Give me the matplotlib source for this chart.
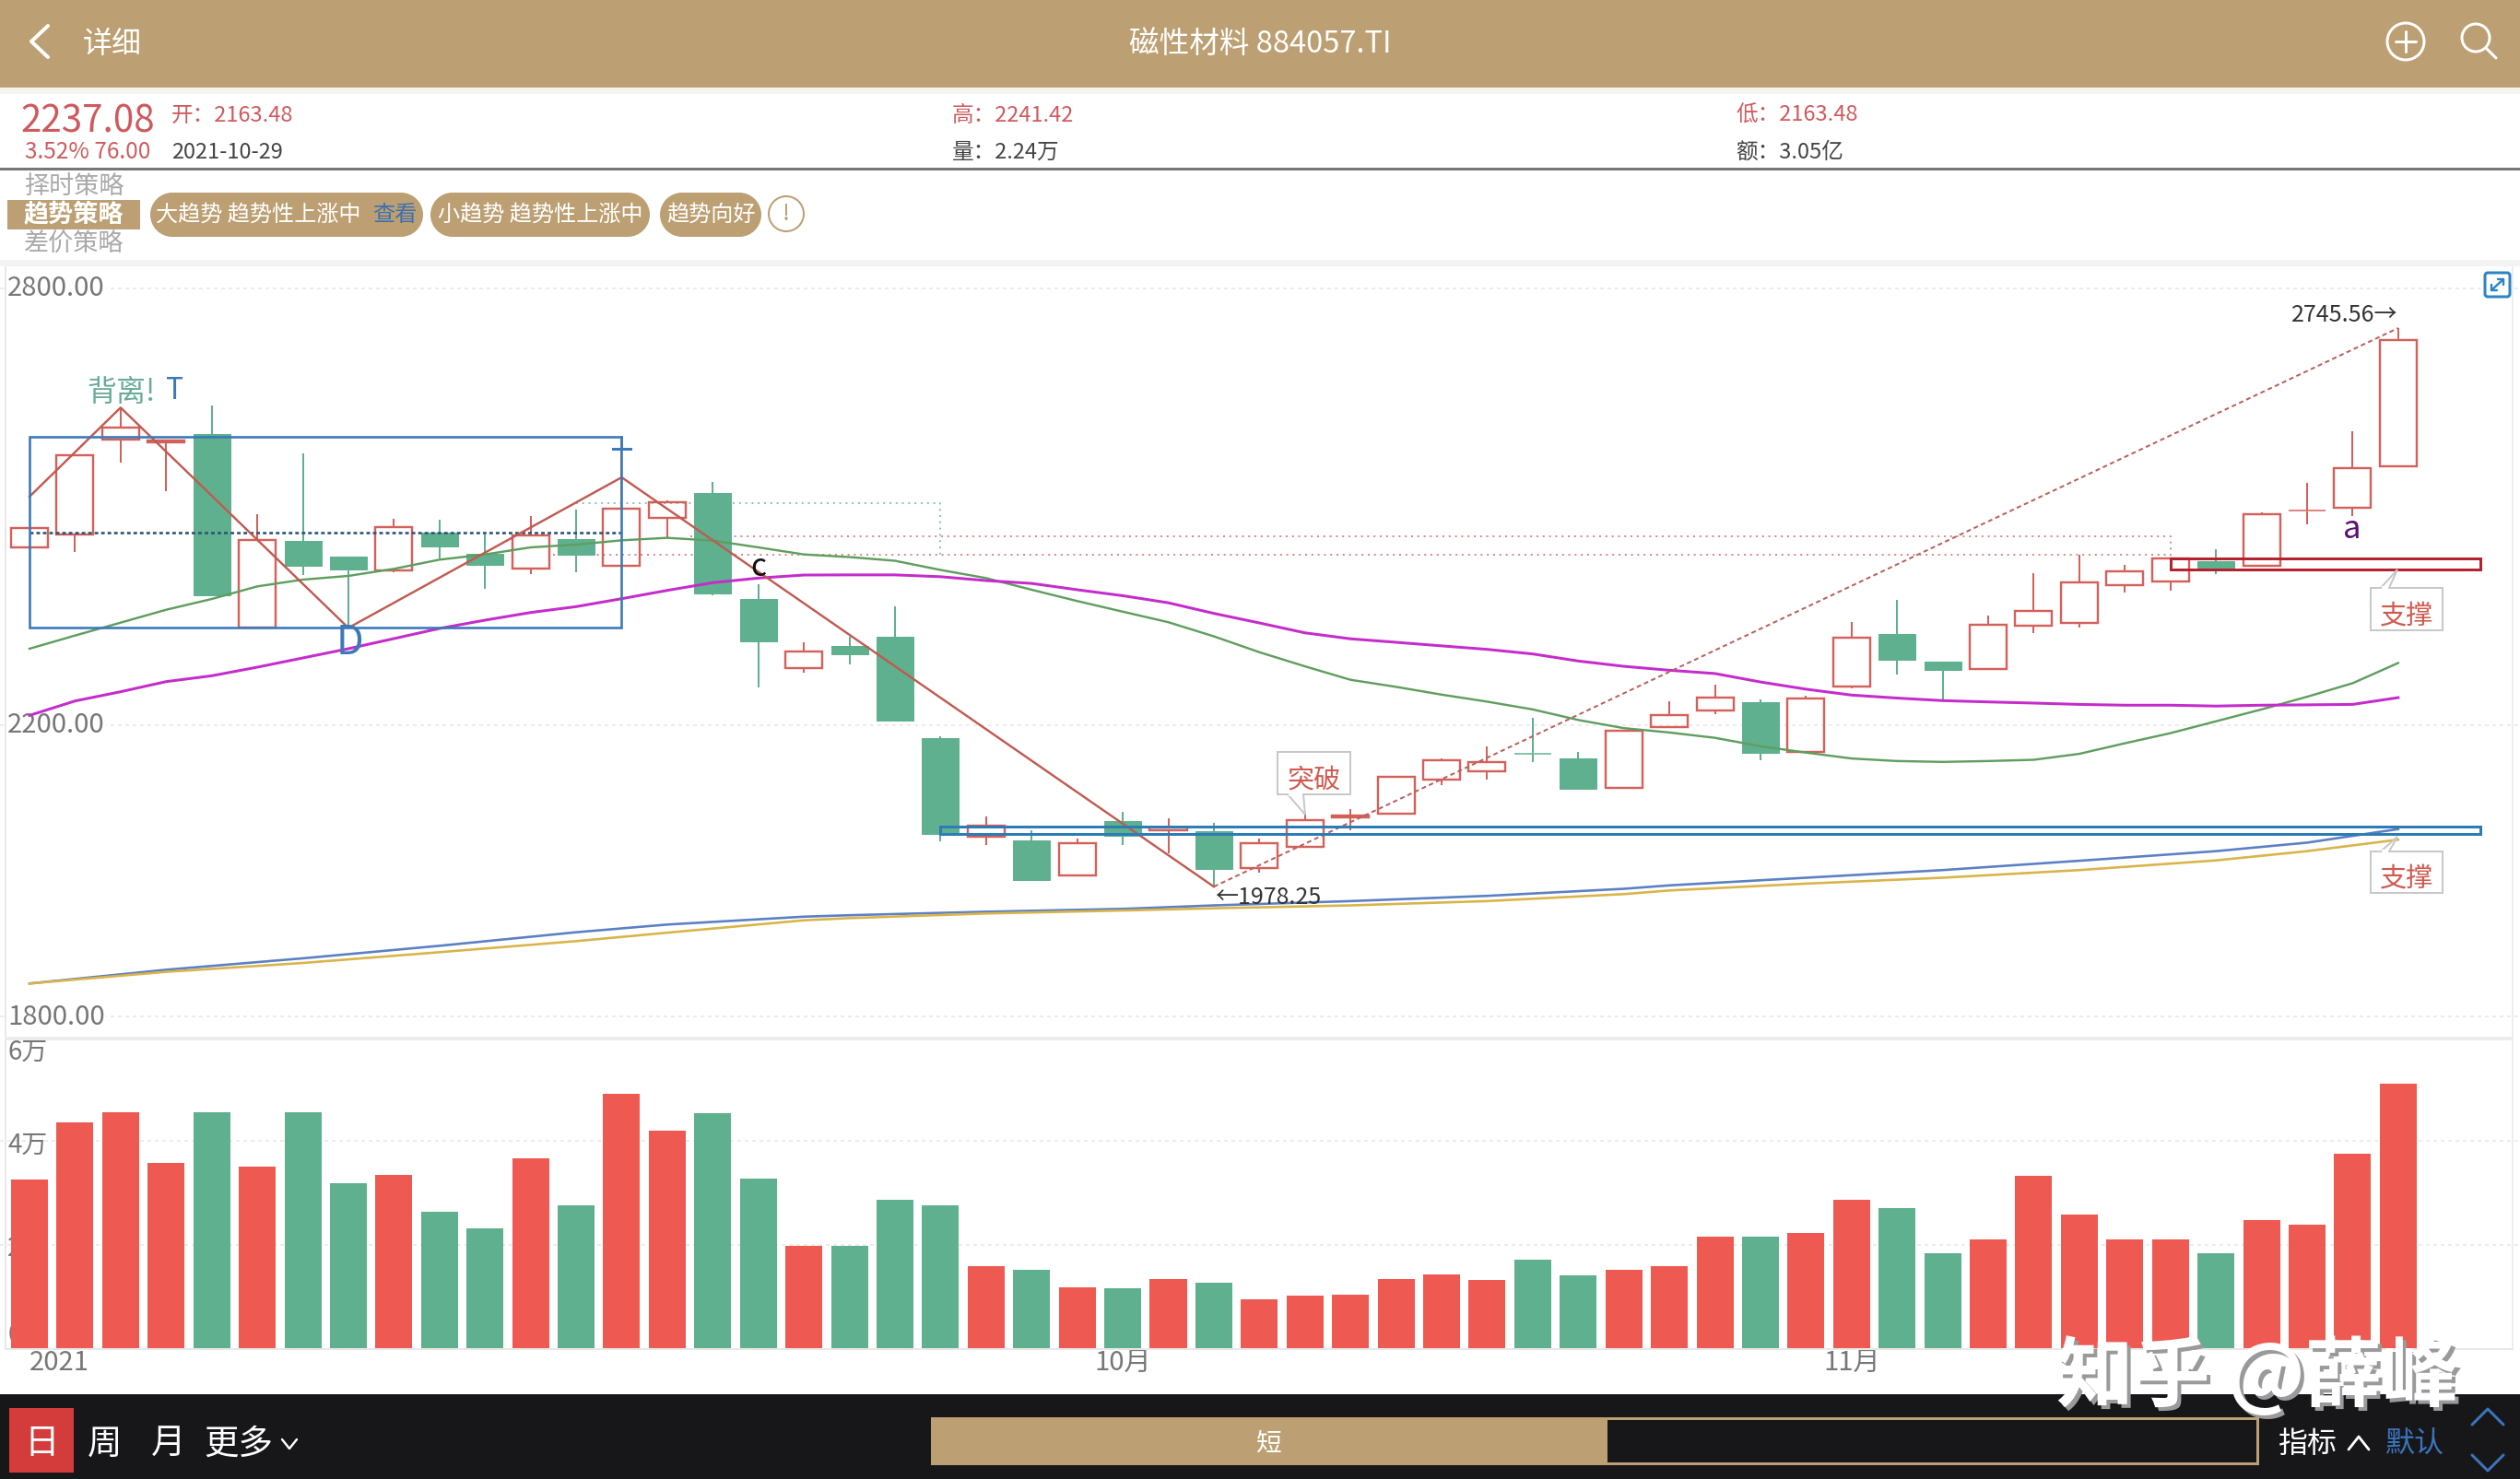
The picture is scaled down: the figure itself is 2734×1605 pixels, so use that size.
import matplotlib
matplotlib.use('Agg')
import matplotlib.pyplot as plt
from matplotlib.patches import Rectangle, FancyBboxPatch, Circle, Polygon
from matplotlib.transforms import ScaledTranslation
import numpy as np

plt.rcParams['font.family'] = ['Noto Sans CJK SC', 'DejaVu Sans']

W, H = 2734, 1606

opens = [2444.3, 2462.4, 2592.8, 2589.0, 2600.0, 2333.7, 2453.2, 2431.6, 2413.0, 2465.0,
         2435.4, 2415.6, 2455.3, 2419.0, 2485.2, 2518.6, 2373.4, 2278.5, 2309.0, 2321.1,
         2182.9, 2046.6, 2041.3, 1993.3, 2068.9, 2055.8, 2054.4, 2003.5, 2033.5, 2072.8,
         2078.6, 2125.2, 2136.3, 2162.0, 2153.8, 2113.6, 2198.0, 2219.9, 2232.1, 2163.0,
         2253.0, 2325.6, 2287.9, 2277.4, 2336.6, 2340.1, 2392.4, 2397.0, 2424.9, 2418.5,
         2494.0, 2499.2, 2555.5]
closes = [2470.5, 2570.9, 2608.9, 2590.7, 2378.9, 2454.8, 2419.4, 2414.3, 2471.7, 2446.0,
          2420.7, 2460.8, 2434.6, 2497.5, 2506.3, 2381.4, 2315.6, 2300.8, 2297.8, 2206.2,
          2050.5, 2061.7, 1987.0, 2038.4, 2048.6, 2059.2, 2002.0, 2038.4, 2069.4, 2075.7,
          2128.6, 2151.4, 2149.0, 2161.2, 2112.6, 2192.1, 2214.0, 2237.9, 2161.8, 2236.8,
          2320.4, 2289.6, 2275.7, 2338.4, 2357.0, 2395.9, 2411.5, 2429.0, 2415.6, 2489.9,
          2494.8, 2552.7, 2728.6]
highs = [2470.5, 2570.9, 2636.3, 2590.7, 2639.7, 2489.4, 2573.0, 2431.6, 2483.1, 2481.9,
         2462.4, 2486.9, 2495.8, 2579.3, 2508.9, 2534.2, 2393.6, 2313.5, 2322.0, 2363.3,
         2185.3, 2074.7, 2055.3, 2044.7, 2081.0, 2072.3, 2066.0, 2044.7, 2078.2, 2084.5,
         2128.6, 2153.8, 2170.8, 2210.5, 2163.5, 2192.1, 2233.3, 2255.3, 2235.0, 2240.8,
         2341.9, 2372.6, 2287.9, 2350.6, 2408.6, 2433.6, 2420.8, 2429.0, 2442.3, 2492.8,
         2533.5, 2603.2, 2745.56]
lows = [2444.3, 2437.9, 2560.3, 2521.5, 2378.9, 2333.7, 2406.3, 2333.7, 2409.7, 2429.5,
        2387.3, 2407.6, 2409.7, 2419.0, 2457.0, 2378.0, 2251.5, 2272.6, 2283.3, 2206.2,
        2040.8, 2035.0, 1987.0, 1993.3, 2036.0, 2023.8, 1978.25, 1997.2, 2033.5, 2056.3,
        2078.6, 2117.4, 2125.7, 2149.9, 2112.6, 2113.6, 2197.4, 2214.7, 2152.0, 2163.0,
        2250.7, 2269.9, 2233.3, 2277.4, 2326.8, 2333.7, 2382.5, 2384.2, 2407.5, 2418.5,
        2476.0, 2487.6, 2555.5]
volumes = [3.25, 4.35, 4.55, 3.57, 4.55, 3.50, 4.55, 3.19, 3.35, 2.64, 2.32, 3.66, 2.75, 4.90,
           4.19, 4.53, 3.27, 1.97, 1.97, 2.86, 2.75, 1.59, 1.52, 1.17, 1.15, 1.33, 1.27, 0.95,
           1.01, 1.04, 1.33, 1.43, 1.31, 1.70, 1.40, 1.51, 1.58, 2.15, 2.16, 2.22, 2.87, 2.70,
           1.84, 2.09, 3.32, 2.57, 2.09, 2.09, 1.83, 2.47, 2.38, 3.76, 5.11]
ma_green = [2305.1, 2323.2, 2340.9, 2358.6, 2373.4, 2390.7, 2400.0, 2405.1, 2414.8, 2427.4,
            2434.6, 2444.3, 2448.1, 2454.0, 2457.4, 2453.6, 2444.3, 2434.6, 2431.0, 2425.9,
            2413.3, 2402.1, 2386.1, 2370.6, 2356.0, 2341.5, 2322.1, 2300.3, 2280.9, 2262.4,
            2252.7, 2242.0, 2232.4, 2221.7, 2207.2, 2196.0, 2190.0, 2182.7, 2171.1, 2162.4,
            2154.3, 2150.8, 2149.6, 2150.8, 2152.5, 2160.7, 2175.2, 2189.1, 2205.4, 2221.7,
            2239.1, 2257.7, 2285.5]
ma_magenta = [2213.5, 2233.3, 2246.0, 2259.9, 2267.9, 2279.7, 2292.4, 2305.1, 2319.0, 2332.9,
              2344.3, 2354.8, 2362.9, 2373.8, 2385.2, 2395.8, 2402.1, 2406.3, 2406.5, 2406.5,
              2404.0, 2398.7, 2394.8, 2386.1, 2377.9, 2368.2, 2353.6, 2340.5, 2326.9, 2318.7,
              2313.9, 2309.0, 2304.2, 2297.9, 2288.2, 2280.9, 2275.5, 2271.0, 2259.4, 2249.5,
              2241.4, 2237.3, 2233.8, 2232.0, 2230.4, 2228.6, 2227.5, 2227.5, 2226.3, 2227.5,
              2228.0, 2228.6, 2237.9]
long_idx = [0, 3, 6, 9, 12, 14, 17, 18, 21, 24, 26, 29, 32, 35, 36, 39, 42, 45, 48, 50, 52]
ma_blue = [1845.2, 1864.1, 1879.8, 1897.0, 1915.6, 1926.2, 1937.0, 1939.0, 1943.8, 1947.7, 1952.5,
           1958.4, 1965.6, 1975.3, 1980.0, 1990.5, 2001.0, 2013.8, 2027.0, 2038.7, 2057.3]
ma_yellow = [1845.2, 1861.2, 1873.4, 1888.2, 1903.4, 1915.0, 1932.0, 1935.0, 1941.4, 1945.5, 1948.5,
             1952.5, 1958.4, 1968.0, 1973.0, 1982.4, 1990.5, 2001.0, 2014.3, 2027.0, 2042.8]
zig_idx = [0, 2, 7, 13, 26]
zig_val = [2514.0, 2636.3, 2333.7, 2540.5, 1978.25]
trend_idx = [26, 52]
trend_val = [1978.25, 2745.56]
price_ticks = [2800, 2200, 1800]
price_labels = ['2800.00', '2200.00', '1800.00']
vol_ticks = [0, 2, 4, 6]
vol_labels = ['0', '2万', '4万', '6万']
date_ticks = [0, 24, 40]
date_labels = ['2021', '10月', '11月']

TAN = '#bc9f72'
RED = '#d4605a'
GREEN = '#5fb08e'
BAR_RED = '#ee5a52'
BLUE = '#3b79b8'
GRAY = '#777777'

X0, STEP = 32.0, 49.42


def px_axes(top, bottom):
    return fig.add_axes([0, 1 - bottom / H, 1, (bottom - top) / H])


def lw(px):
    return px * 0.72


fig = plt.figure(figsize=(W / 100, H / 100), dpi=100, facecolor='white')
xlim = (-X0 / STEP, (W - X0) / STEP)

# ---------- price panel ----------
ax = px_axes(294, 1120)
ax.set_xlim(*xlim)
ax.set_ylim(2800 - (1120 - 314) / 0.79, 2800 + 20 / 0.79)
ax.patch.set_alpha(0)
for s in ax.spines.values():
    s.set_visible(False)
ax.set_xticks([])
ax.set_yticks(price_ticks, price_labels)
ax.tick_params(axis='y', length=0, pad=-6, labelsize=21, labelcolor=GRAY)
lift = ScaledTranslation(0, 4 / 100, fig.dpi_scale_trans)
for t in ax.get_yticklabels():
    t.set_ha('left')
    t.set_bbox(dict(fc='white', ec='none', pad=1))
    t.set_transform(t.get_transform() + lift)
ax.yaxis.grid(True, color='#ececec', lw=lw(2), ls=(0, (2, 2)))
ax.set_axisbelow(True)

idx = np.arange(len(opens))
o, c, h_, l_ = map(np.array, (opens, closes, highs, lows))
up = c >= o
top_, bot_ = np.maximum(o, c), np.minimum(o, c)
thin = (top_ - bot_) < 1
cols = np.where(up, RED, GREEN)
ax.vlines(idx, top_, h_, colors=cols, lw=lw(2), zorder=3)
ax.vlines(idx, l_, bot_, colors=cols, lw=lw(2), zorder=3)
sel = up & ~thin
ax.bar(idx[sel], (top_ - bot_)[sel], 0.81, bot_[sel], facecolor='none', edgecolor=RED, lw=lw(2.4), zorder=3)
sel = ~up & ~thin
ax.bar(idx[sel], (top_ - bot_)[sel], 0.81, bot_[sel], facecolor=GREEN, edgecolor=GREEN, lw=lw(1), zorder=3)
ax.hlines(c[thin], idx[thin] - 0.4, idx[thin] + 0.4, colors=cols[thin], lw=lw(1.5), zorder=3)

ax.plot(idx, ma_green, color='#5f9e5f', lw=lw(2.4), zorder=4)
ax.plot(idx, ma_magenta, color='#c42ccb', lw=lw(3), zorder=4)
ax.plot(long_idx, ma_blue, color='#5b80c4', lw=lw(2.6), zorder=4)
ax.plot(long_idx, ma_yellow, color='#d9b44a', lw=lw(2.6), zorder=4)
ax.plot(zig_idx, zig_val, color='#c15a50', lw=lw(2.4), zorder=5)
ax.plot(trend_idx, trend_val, color='#b9605e', lw=lw(2), ls=(0, (2.5, 1.8)), zorder=5)

# pattern boxes
ax.add_patch(Rectangle((0, 2333.7), 13, 262.5, fc='none', ec=BLUE, lw=lw(2.6), zorder=5))
ax.plot([13, 13], [2596.2, 2579.3], color=BLUE, lw=lw(2.6), zorder=5)
ax.plot([12.8, 13.2], [2579.3, 2579.3], color=BLUE, lw=lw(3), zorder=5)
ax.plot([0, 13], [2465, 2465], color='#2d5377', lw=lw(2.6), ls=(0, (1.5, 1.2)), zorder=4)
ax.plot([12, 20, 20], [2505.5, 2505.5, 2434.6], color='#8cc4c4', lw=lw(2), ls=(0, (1, 2.4)), zorder=2)
ax.plot([11.5, 47], [2434.6, 2434.6], color='#d98a8a', lw=lw(2), ls=(0, (1, 2.4)), zorder=2)
ax.plot([14.5, 47, 47], [2459.8, 2459.8, 2429], color='#d98a8a', lw=lw(2), ls=(0, (1, 2.4)), zorder=2)
ax.add_patch(Rectangle((47, 2413.9), 6.8, 15.1, fc='none', ec='#b5222f', lw=lw(3), zorder=6))
ax.add_patch(Rectangle((20, 2050.5), 33.8, 9.7, fc='none', ec='#2c7cb5', lw=lw(3), zorder=6))

# ---------- volume panel ----------
vx = px_axes(1126.5, 1464)
vx.set_xlim(*xlim)
vx.set_ylim(0, 6)
vx.patch.set_alpha(0)
for s in vx.spines.values():
    s.set_visible(False)
vx.bar(idx, volumes, 0.81, color=np.where(up, BAR_RED, GREEN), zorder=2)
vx.set_yticks(vol_ticks, vol_labels)
vx.tick_params(axis='y', length=0, pad=-6, labelsize=20, labelcolor=GRAY)
for t in vx.get_yticklabels():
    t.set_ha('left')
vx.get_yticklabels()[0].set_va('bottom')
vx.get_yticklabels()[3].set_va('top')
vx.yaxis.grid(True, color='#ececec', lw=lw(2), ls=(0, (2, 2)))
vx.get_ygridlines()[0].set_visible(False)
vx.get_ygridlines()[3].set_visible(False)
vx.set_axisbelow(True)
vx.set_xticks(date_ticks, date_labels)
vx.tick_params(axis='x', length=0, pad=0, labelsize=21, labelcolor=GRAY)
vx.get_xticklabels()[0].set_ha('left')

# ---------- app chrome, in pixel coordinates ----------
ui = fig.add_axes([0, 0, 1, 1], zorder=5)
ui.set_xlim(0, W)
ui.set_ylim(H, 0)
ui.axis('off')


def box(x0, y0, x1, y1, **kw):
    kw.setdefault('ec', 'none')
    ui.add_patch(Rectangle((x0, y0), x1 - x0, y1 - y0, **kw))


def txt(x, y, s, size, color, ha='center', **kw):
    ui.text(x, y + 3, s, fontsize=size, color=color, ha=ha, va='center', **kw)


def pill(x0, y0, x1, y1):
    r = (y1 - y0) / 2
    box(x0 + r, y0, x1 - r, y1, fc=TAN)
    ui.add_patch(Circle((x0 + r, y0 + r), r, fc=TAN, ec='none'))
    ui.add_patch(Circle((x1 - r, y0 + r), r, fc=TAN, ec='none'))


def poly(pts, color, width):
    xs, ys = zip(*pts)
    ui.plot(xs, ys, color=color, lw=lw(width), solid_capstyle='round', solid_joinstyle='round')


# header
box(0, 0, W, 96, fc=TAN)
box(0, 96, W, 103, fc='#f6f4f0')
poly([(52, 29), (34, 46), (52, 63)], 'white', 4)
txt(122, 45, '详细', 23, 'white')
txt(1367, 45, '磁性材料 884057.TI', 23.5, 'white')
ui.add_patch(Circle((2610, 46), 20, fc='none', ec='white', lw=lw(3)))
poly([(2599, 46), (2621, 46)], 'white', 3)
poly([(2610, 35), (2610, 57)], 'white', 3)
ui.add_patch(Circle((2686, 42), 15, fc='none', ec='white', lw=lw(3)))
poly([(2697, 53), (2708, 64)], 'white', 3)

# quote block
CR = '#cf5a5e'
txt(22, 129, '2237.08', 29, CR, ha='left')
txt(27, 162, '3.52% 76.00', 17.5, CR, ha='left')
txt(186, 122, '开：2163.48', 17, CR, ha='left')
txt(186, 162, '2021-10-29', 17, '#444444', ha='left')
txt(1033, 122, '高：2241.42', 17, CR, ha='left')
txt(1883, 122, '低：2163.48', 17, CR, ha='left')
txt(1033, 162, '量：2.24万', 17, '#444444', ha='left')
txt(1883, 162, '额：3.05亿', 17, '#444444', ha='left')
box(0, 183, W, 186, fc='#777777')

# strategy row
txt(80, 200, '择时策略', 19.5, '#aaaaaa')
txt(80, 262, '差价策略', 19.5, '#aaaaaa')
box(8, 218, 152, 250, fc=TAN)
txt(80, 230, '趋势策略', 19.5, 'white', fontweight='bold')
pill(163, 210, 459, 258)
pill(467, 210, 705, 258)
pill(716, 210, 826, 258)
txt(169, 230, '大趋势 趋势性上涨中', 17.4, 'white', ha='left')
txt(428, 230, '查看', 17.4, '#3b6fb0')
txt(475, 230, '小趋势 趋势性上涨中', 17.4, 'white', ha='left')
txt(771, 230, '趋势向好', 17.4, 'white')
ui.add_patch(Circle((853, 233), 19, fc='white', ec=TAN, lw=lw(2)))
txt(853, 229, '!', 18, TAN)

# panel frame
box(0, 283, W, 290, fc='#f3f3f3')
box(5, 290, 7, 1464, fc='#e8e8e8')
box(2725, 290, 2727, 1464, fc='#eeeeee')
box(5, 1126, 2727, 1130, fc='#ececec')
box(5, 1464, 2727, 1466, fc='#e8e8e8')

# expand icon
ui.add_patch(FancyBboxPatch((2696, 297), 27, 26, boxstyle='round,pad=0,rounding_size=3',
                            fc='white', ec='#2c84c6', lw=lw(3)))
poly([(2703, 316), (2716, 304)], '#2c84c6', 2.4)
poly([(2710, 304), (2716, 304), (2716, 310)], '#2c84c6', 2.4)
poly([(2703, 310), (2703, 316), (2709, 316)], '#2c84c6', 2.4)

# chart annotations
txt(131, 423, '背离!', 23, '#6aab9a')
txt(190, 421, 'T', 23, BLUE)
txt(379, 695, 'D', 31, BLUE)
txt(823, 613, 'c', 24, '#111111')
txt(2552, 572, 'a', 25, '#5b0f73')
txt(1318, 971, '←1978.25', 18, '#333333', ha='left')
txt(2601, 339, '2745.56→', 18, '#333333', ha='right')


def callout(x0, y0, x1, y1, s, tip, b0, b1, edge_y):
    ui.add_patch(Rectangle((x0, y0), x1 - x0, y1 - y0, fc='white', ec='#c8c8c8', lw=lw(2), zorder=7))
    ui.add_patch(Polygon([(b0, edge_y), tip, (b1, edge_y)], closed=False, fc='white',
                         ec='#c8c8c8', lw=lw(2), zorder=7))
    box(b0 + 1, edge_y - 2, b1 - 1, edge_y + 2, fc='white', zorder=8)
    ui.text((x0 + x1) / 2, (y0 + y1) / 2 + 6, s, fontsize=21, color='#cf5a50', ha='center', va='center', zorder=9)


callout(1386, 817, 1465, 863, '突破', (1416, 885), 1397, 1414, 863)
callout(2572, 639, 2650, 685, '支撑', (2601, 619), 2583, 2592, 639)
callout(2572, 925, 2650, 970, '支撑', (2601, 909), 2583, 2592, 925)

# bottom bar
box(0, 1514, W, H, fc='#17171a')
box(10, 1529, 80, 1599, fc='#d43c3c')
txt(45, 1564, '日', 27, 'white')
txt(114, 1564, '周', 27, 'white')
txt(183, 1564, '月', 27, 'white')
txt(259, 1564, '更多', 27, 'white')
poly([(306, 1563), (314, 1573), (322, 1563)], 'white', 2.4)
ui.add_patch(Rectangle((1011, 1540), 1438, 49, fc='none', ec=TAN, lw=lw(3)))
box(1010, 1539, 1744, 1589, fc=TAN)
txt(1377, 1564, '短', 20, 'white')
txt(2503, 1564, '指标', 23, 'white')
poly([(2548, 1574), (2559, 1560), (2570, 1574)], 'white', 2.8)
txt(2620, 1564, '默认', 23, '#3b74bb')
poly([(2682, 1547), (2699, 1530), (2716, 1547)], '#3b74bb', 3)
poly([(2682, 1580), (2699, 1597), (2716, 1580)], '#3b74bb', 3)

# watermark
WM = '知乎 @薛峰'
ui.text(2453, 1499, WM, fontsize=60, color='#9a9a9a', ha='center', va='center', zorder=10, fontweight='bold')
ui.text(2449, 1495, WM, fontsize=60, color='white', ha='center', va='center', zorder=11, fontweight='bold')

fig.savefig('out.png', dpi=100)
